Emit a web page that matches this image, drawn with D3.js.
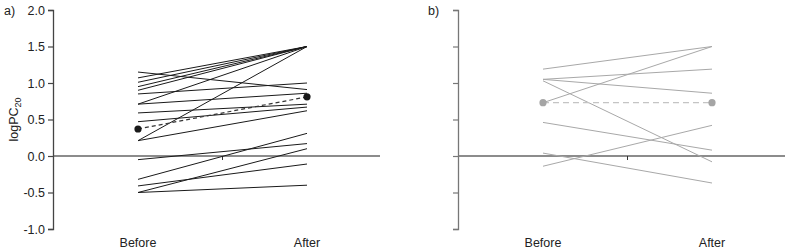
<!DOCTYPE html>
<html>
<head>
<meta charset="utf-8">
<script src="https://cdn.jsdelivr.net/npm/d3@7"></script>
<style>
  body { margin: 0; background: #fff; }
  svg { font-family: "Liberation Sans", Arial, sans-serif; }
</style>
</head>
<body>
<div id="chart"></div>
<script>
const periods = ["Before", "After"];
const yTicks = [-1.0, -0.5, 0.0, 0.5, 1.0, 1.5, 2.0];

// panel a: individual subjects
const aBefore = [1.15, 1.07, 1.01, 0.95, 0.90, 0.85, 0.71, 0.71, 0.59, 0.47, 0.21, 0.21, -0.05, -0.32, -0.41, -0.50, -0.50];
const aAfter  = [0.91, 1.50, 1.50, 1.50, 1.50, 1.00, 1.50, 0.86, 0.71, 0.67, 1.50, 0.62, 0.17, 0.31, -0.11, 0.10, -0.40];
const aMean = [0.37, 0.81];

// panel b: individual subjects
const bBefore = [1.19, 1.05, 1.05, 1.03, 0.73, 0.46, 0.04, -0.14];
const bAfter  = [1.50, 1.19, 0.86, -0.08, 1.50, 0.08, -0.37, 0.42];
const bMean = [0.73, 0.73];

const width = 800, height = 252;

const svg = d3.select("#chart").append("svg")
  .attr("width", width)
  .attr("height", height);

const y = d3.scaleLinear().domain([-1, 2]).range([229, 10]);

function drawPanel(cfg) {
  const g = svg.append("g").attr("transform", `translate(${cfg.left},0)`);
  const x = d3.scalePoint().domain(periods).range([85, 254]);

  // zero line
  g.append("line")
    .attr("x1", 0).attr("x2", cfg.lineEnd)
    .attr("y1", y(0)).attr("y2", y(0))
    .attr("stroke", "#666").attr("stroke-width", 1.3);

  // small tick between the two groups
  g.append("line")
    .attr("x1", (x("Before") + x("After")) / 2)
    .attr("x2", (x("Before") + x("After")) / 2)
    .attr("y1", y(0)).attr("y2", y(0) + 4)
    .attr("stroke", "#333").attr("stroke-width", 1);

  const yAxis = d3.axisLeft(y).tickValues(yTicks).tickSize(5)
    .tickFormat(cfg.labels ? d3.format(".1f") : "");
  const ax = g.append("g").call(yAxis);
  ax.select(".domain").attr("stroke", cfg.axisColor).attr("stroke-width", 1.3);
  ax.selectAll(".tick line").attr("stroke", cfg.axisColor).attr("stroke-width", 1.2);
  ax.selectAll(".tick text")
    .attr("font-size", 12.5).attr("fill", "#222")
    .attr("x", -8)
    .attr("font-family", "'Liberation Sans', Arial, sans-serif")
    .text(d => cfg.labels ? (d < 0 ? "-" + d3.format(".1f")(-d) : d3.format(".1f")(d)) : "");

  const pairs = cfg.before.map((b, i) => [b, cfg.after[i]]);
  g.selectAll(".subject")
    .data(pairs)
    .join("line")
    .attr("class", "subject")
    .attr("x1", x("Before")).attr("x2", x("After"))
    .attr("y1", d => y(d[0])).attr("y2", d => y(d[1]))
    .attr("stroke", cfg.lineColor).attr("stroke-width", 1);

  g.append("line")
    .attr("x1", x("Before")).attr("x2", x("After"))
    .attr("y1", y(cfg.mean[0])).attr("y2", y(cfg.mean[1]))
    .attr("stroke", cfg.meanColor).attr("stroke-width", 1.2)
    .attr("stroke-dasharray", cfg.dash);

  g.selectAll(".mean-dot")
    .data(periods)
    .join("circle")
    .attr("class", "mean-dot")
    .attr("cx", d => x(d))
    .attr("cy", (d, i) => y(cfg.mean[i]))
    .attr("r", 3.6)
    .attr("fill", cfg.dotColor);

  g.selectAll(".xlab")
    .data(periods)
    .join("text")
    .attr("class", "xlab")
    .attr("x", d => x(d))
    .attr("y", 247)
    .attr("text-anchor", "middle")
    .attr("font-size", 12.5)
    .attr("fill", "#222")
    .text(d => d);

  svg.append("text")
    .attr("x", cfg.tagX).attr("y", 15)
    .attr("font-size", 12.5).attr("fill", "#222")
    .text(cfg.tag);
}

drawPanel({
  left: 53, lineEnd: 327, labels: true, axisColor: "#444",
  before: aBefore, after: aAfter, mean: aMean,
  lineColor: "#1a1a1a", meanColor: "#333", dotColor: "#1a1a1a", dash: "4,3",
  tag: "a)", tagX: 4
});

drawPanel({
  left: 458, lineEnd: 327, labels: false, axisColor: "#777",
  before: bBefore, after: bAfter, mean: bMean,
  lineColor: "#a8a8a8", meanColor: "#c4c4c4", dotColor: "#a5a5a5", dash: "6,4",
  tag: "b)", tagX: 428
});

// y axis title with subscript
const yt = svg.append("text")
  .attr("transform", `translate(18,${y(0.5)}) rotate(-90)`)
  .attr("text-anchor", "middle")
  .attr("font-size", 12.5)
  .attr("fill", "#222");
yt.append("tspan").text("logPC");
yt.append("tspan").attr("font-size", 9).attr("dy", 3).text("20");
</script>
</body>
</html>
